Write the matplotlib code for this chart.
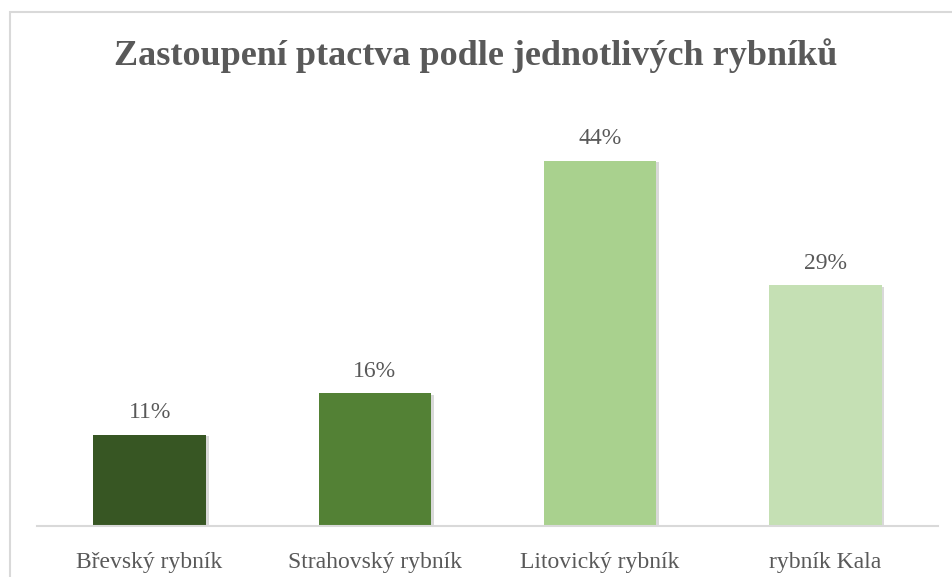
import matplotlib
matplotlib.use("Agg")
import matplotlib.pyplot as plt
import matplotlib.patheffects as pe
from matplotlib.patches import Rectangle

# ponds and share of birds
rybniky = ['Břevský rybník', 'Strahovský rybník', 'Litovický rybník', 'rybník Kala']
podily = [0.11, 0.16, 0.44, 0.29]
barvy = ['#375623', '#538135', '#A9D18E', '#C5E0B4']

text_col = '#595959'
line_col = '#D9D9D9'

plt.rcParams['font.family'] = ['Liberation Serif', 'DejaVu Serif']

fig = plt.figure(figsize=(9.52, 5.77), dpi=100)
# outer chart frame (right and bottom edges fall outside the image)
fig.patches.append(Rectangle((10 / 952, -0.05), 1.2, 1.05 - 12 / 577, transform=fig.transFigure,
                             fill=False, edgecolor=line_col, linewidth=1.5))

ax = fig.add_axes([37 / 952, (577 - 526) / 577, 901 / 952, 415 / 577])
x = range(len(rybniky))
bars = ax.bar(x, podily, width=0.5, color=barvy, zorder=2)
for b in bars:
    b.set_path_effects([pe.SimplePatchShadow(offset=(2, -1), alpha=0.15, shadow_rgbFace='black'),
                        pe.Normal()])

for i, v in enumerate(podily):
    ax.annotate('%d%%' % round(v * 100), (i, v), xytext=(0, 12), textcoords='offset points',
                ha='center', va='baseline', fontsize=17, color=text_col)
    # category label under the axis
    ax.annotate(rybniky[i], (i, 0), xytext=(0, -30), textcoords='offset points',
                ha='center', va='baseline', fontsize=17, color=text_col, annotation_clip=False)

ax.set_xlim(-0.5, len(rybniky) - 0.5)
ax.set_ylim(0, 0.5)
ax.set_yticks([])
ax.set_xticks([])
for s in ['top', 'right', 'left']:
    ax.spines[s].set_visible(False)
ax.spines['bottom'].set_color(line_col)
ax.spines['bottom'].set_linewidth(1.5)

fig.text(0.5, 1 - 65 / 577, 'Zastoupení ptactva podle jednotlivých rybníků', ha='center', va='baseline',
         fontsize=26, fontweight='bold', color=text_col)

fig.savefig('out.png', dpi=100, facecolor='white')
